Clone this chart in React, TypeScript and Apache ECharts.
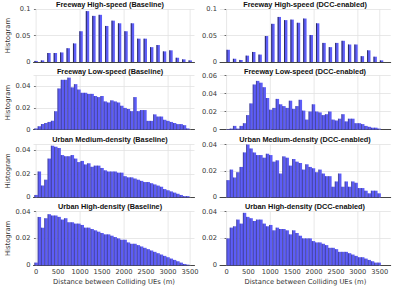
import React, { useEffect, useRef } from 'react';
import * as echarts from 'echarts';

const TITLES = [
  'Freeway High-speed (Baseline)', 'Freeway High-speed (DCC-enabled)',
  'Freeway Low-speed (Baseline)', 'Freeway Low-speed (DCC-enabled)',
  'Urban Medium-density (Baseline)', 'Urban Medium-density (DCC-enabled)',
  'Urban High-density (Baseline)', 'Urban High-density (DCC-enabled)',
];

const FH_BASE = [0.002, 0.003, 0.017, 0.017, 0.018, 0.026, 0.035, 0.058, 0.096, 0.087, 0.089, 0.068, 0.078, 0.073, 0.058, 0.073, 0.044, 0.044, 0.028, 0.032, 0.020, 0.022, 0.008, 0.005, 0.003];
const FH_DCC = [0.023, 0.006, 0.004, 0.012, 0.019, 0.014, 0.049, 0.072, 0.085, 0.079, 0.080, 0.074, 0.082, 0.051, 0.073, 0.036, 0.028, 0.036, 0.040, 0.033, 0.033, 0.011, 0.022, 0.010, 0.003];
const FL_BASE = [0.001, 0.003, 0.005, 0.006, 0.007, 0.008, 0.017, 0.038, 0.046, 0.046, 0.048, 0.039, 0.042, 0.037, 0.034, 0.034, 0.033, 0.033, 0.031, 0.030, 0.031, 0.026, 0.025, 0.027, 0.026, 0.025, 0.022, 0.020, 0.019, 0.017, 0.030, 0.017, 0.018, 0.018, 0.008, 0.008, 0.014, 0.012, 0.012, 0.009, 0.008, 0.007, 0.006, 0.005, 0.005, 0.004, 0.001];
const FL_DCC = [0.0005, 0.001, 0.004, 0.001, 0.004, 0.007, 0.016, 0.029, 0.050, 0.054, 0.052, 0.047, 0.035, 0.022, 0.024, 0.034, 0.028, 0.026, 0.024, 0.032, 0.023, 0.026, 0.033, 0.021, 0.011, 0.020, 0.028, 0.020, 0.019, 0.016, 0.017, 0.020, 0.011, 0.010, 0.012, 0.017, 0.009, 0.012, 0.012, 0.007, 0.007, 0.006, 0.004, 0.003, 0.002, 0.002, 0.001];
const UM_BASE = [0.002, 0.022, 0.010, 0.015, 0.033, 0.044, 0.043, 0.042, 0.036, 0.035, 0.035, 0.036, 0.033, 0.030, 0.031, 0.028, 0.029, 0.026, 0.027, 0.027, 0.025, 0.023, 0.022, 0.022, 0.022, 0.021, 0.021, 0.018, 0.017, 0.017, 0.016, 0.015, 0.014, 0.013, 0.013, 0.012, 0.011, 0.010, 0.009, 0.007, 0.006, 0.005, 0.004, 0.003, 0.002, 0.001, 0.001];
const UM_DCC = [0.013, 0.021, 0.015, 0.019, 0.023, 0.034, 0.040, 0.037, 0.034, 0.032, 0.032, 0.030, 0.033, 0.032, 0.027, 0.028, 0.018, 0.031, 0.030, 0.024, 0.029, 0.027, 0.026, 0.021, 0.025, 0.023, 0.022, 0.019, 0.021, 0.018, 0.016, 0.016, 0.008, 0.012, 0.018, 0.008, 0.012, 0.008, 0.012, 0.011, 0.007, 0.007, 0.005, 0.003, 0.005, 0.005, 0.003];
const UH_BASE = [0.002, 0.036, 0.028, 0.035, 0.038, 0.037, 0.037, 0.036, 0.034, 0.035, 0.032, 0.032, 0.031, 0.031, 0.030, 0.028, 0.028, 0.027, 0.026, 0.025, 0.024, 0.023, 0.023, 0.022, 0.021, 0.020, 0.019, 0.019, 0.017, 0.016, 0.016, 0.015, 0.014, 0.013, 0.012, 0.011, 0.010, 0.009, 0.008, 0.007, 0.006, 0.005, 0.004, 0.003, 0.002, 0.001, 0.0005];
const UH_DCC = [0.020, 0.028, 0.029, 0.034, 0.031, 0.039, 0.036, 0.035, 0.033, 0.034, 0.034, 0.031, 0.029, 0.030, 0.026, 0.028, 0.027, 0.027, 0.026, 0.023, 0.026, 0.024, 0.022, 0.020, 0.020, 0.020, 0.018, 0.017, 0.017, 0.016, 0.015, 0.013, 0.013, 0.012, 0.010, 0.010, 0.010, 0.009, 0.008, 0.007, 0.006, 0.006, 0.005, 0.004, 0.003, 0.002, 0.002];

const PANELS = [FH_BASE, FH_DCC, FL_BASE, FL_DCC, UM_BASE, UM_DCC, UH_BASE, UH_DCC];

const X_LABELS = [0, 500, 1000, 1500, 2000, 2500, 3000, 3500];
const X_GRID = [0, 1000, 2000, 3000, 3500];
const Y_MAX = [0.1, 0.1, 0.05, 0.06, 0.045, 0.04, 0.04, 0.04];
const Y_STEP = [0.05, 0.05, 0.02, 0.02, 0.02, 0.02, 0.02, 0.02];

// bin layout (metres)
const WIDE_STEP = 146;
const WIDE_BAR = 76;
const NARROW_STEP = 75;

const ROWS = [
  { top: 9, bottom: 62, titleY: 4 },
  { top: 75.5, bottom: 129.5, titleY: 71.5 },
  { top: 144.5, bottom: 197.3, titleY: 139.5 },
  { top: 211.5, bottom: 265.3, titleY: 206.5 },
];
const COLS = [
  { left: 33.5, right: 194.5, xmin: -60, xmax: 3600, titleX: 110 },
  { left: 220, right: 390.7, xmin: -150, xmax: 3750, titleX: 305 },
];

const BLUE = '#5d5df7';
const DARK = '#23234d';
const FONT = 'DejaVu Sans';

function binData(values: number[], idx: number) {
  const row = Math.floor(idx / 2);
  const col = idx % 2;
  const step = row === 0 ? WIDE_STEP : NARROW_STEP;
  const bw = row === 0 ? WIDE_BAR : NARROW_STEP;
  return values.map((v, i) => {
    const start = col === 0 ? i * step - bw / 2 : i * step;
    return [start, start + bw, v];
  });
}

export default function App() {
  const ref = useRef<HTMLDivElement>(null);
  useEffect(() => {
    if (!ref.current) return;
    const chart = echarts.init(ref.current, null, { renderer: 'svg' });
    const grids: any[] = [];
    const xAxes: any[] = [];
    const yAxes: any[] = [];
    const series: any[] = [];
    const graphics: any[] = [];
    PANELS.forEach((vals, i) => {
      const rowIdx = Math.floor(i / 2);
      const row = ROWS[rowIdx];
      const col = COLS[i % 2];
      const isBottom = rowIdx === 3;
      grids.push({ left: col.left, top: row.top, width: col.right - col.left, height: row.bottom - row.top, containLabel: false });
      xAxes.push({
        type: 'value', gridIndex: i, min: col.xmin, max: col.xmax,
        axisLine: { show: true, onZero: false, lineStyle: { color: '#444', width: 1 } },
        axisTick: { show: false },
        splitLine: { show: false },
        axisLabel: isBottom
          ? { show: true, customValues: X_LABELS, formatter: (v: number) => String(v), fontSize: 6.7, color: '#333', fontFamily: FONT, margin: 3 }
          : { show: false },
        name: isBottom ? 'Distance between Colliding UEs (m)' : '',
        nameLocation: 'middle', nameGap: 13,
        nameTextStyle: { fontSize: 6.8, color: '#333', fontFamily: FONT },
      });
      const showMax = Math.abs(Y_MAX[i] / Y_STEP[i] - Math.round(Y_MAX[i] / Y_STEP[i])) < 1e-6;
      yAxes.push({
        type: 'value', gridIndex: i, min: 0, max: Y_MAX[i], interval: Y_STEP[i],
        axisLine: { show: false },
        axisTick: { show: true, length: 2, lineStyle: { color: '#444', width: 0.8 } },
        splitLine: { show: true, lineStyle: { color: '#e2e2e2', width: 0.8 } },
        axisLabel: { fontSize: 6.7, color: '#333', fontFamily: FONT, margin: 3, showMaxLabel: showMax },
        name: i % 2 === 0 ? 'Histogram' : '',
        nameLocation: 'middle', nameRotate: 90, nameGap: 22,
        nameTextStyle: { fontSize: 6.8, color: '#333', fontFamily: FONT },
      });
      series.push({
        type: 'custom', xAxisIndex: i, yAxisIndex: i, z: 1, silent: true,
        data: X_GRID.map((v) => [v]),
        encode: { x: 0 },
        renderItem: (params: any, api: any) => {
          const cs = params.coordSys;
          const x = api.coord([api.value(0), 0])[0];
          return { type: 'line', shape: { x1: x, y1: cs.y, x2: x, y2: cs.y + cs.height }, style: { stroke: '#e2e2e2', lineWidth: 0.8 } };
        },
      });
      const edgeW = rowIdx === 0 ? 0.9 : 0.55;
      series.push({
        type: 'custom', xAxisIndex: i, yAxisIndex: i, z: 2, silent: true,
        data: binData(vals, i),
        encode: { x: [0, 1], y: 2 },
        renderItem: (params: any, api: any) => {
          const p0 = api.coord([api.value(0), 0]);
          const p1 = api.coord([api.value(1), api.value(2)]);
          return {
            type: 'group',
            children: [
              { type: 'rect', shape: { x: p0[0], y: p1[1], width: p1[0] - p0[0], height: p0[1] - p1[1] }, style: { fill: BLUE } },
              { type: 'line', shape: { x1: p0[0] + edgeW / 2, y1: p1[1], x2: p0[0] + edgeW / 2, y2: p0[1] }, style: { stroke: DARK, lineWidth: edgeW } },
            ],
          };
        },
      });
      graphics.push({
        type: 'text', x: col.titleX, y: row.titleY, z: 10,
        style: { text: TITLES[i], fontSize: 7.3, fontWeight: 'bold', fontFamily: 'Liberation Sans', fill: '#111', align: 'center', verticalAlign: 'middle' },
      });
    });
    chart.setOption({
      animation: false,
      backgroundColor: '#fff',
      grid: grids,
      xAxis: xAxes,
      yAxis: yAxes,
      series,
      graphic: graphics,
    });
    return () => chart.dispose();
  }, []);
  return <div ref={ref} style={{ position: 'fixed', left: 0, top: 0, width: 399, height: 288 }} />;
}
